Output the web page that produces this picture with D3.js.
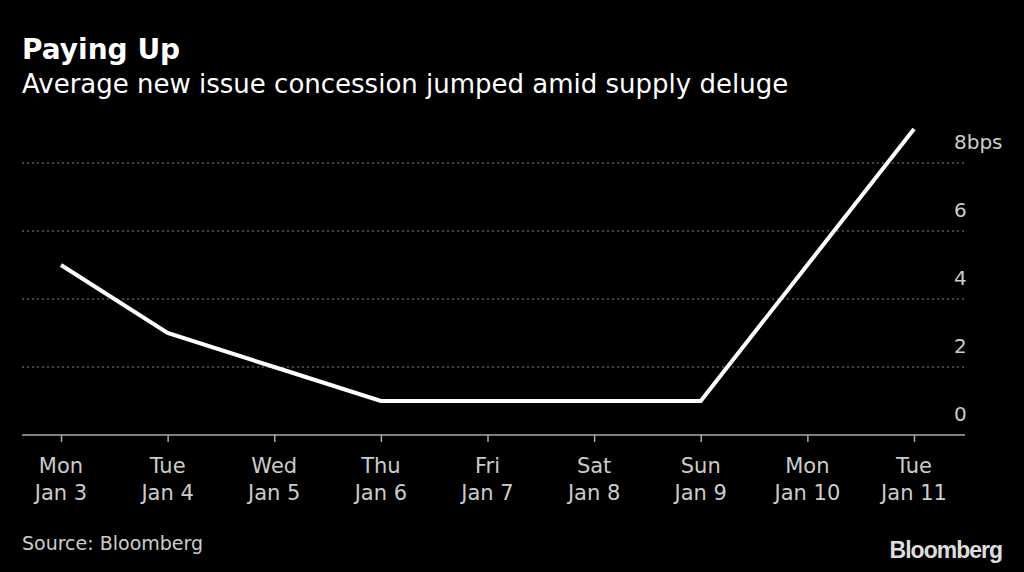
<!DOCTYPE html>
<html><head><meta charset="utf-8">
<script src="https://cdn.jsdelivr.net/npm/d3@7"></script>
<style>body{margin:0;background:#000;}svg{display:block;}</style>
</head><body>
<svg id="c" width="1024" height="572"></svg>
<script>
const days = ["Mon","Tue","Wed","Thu","Fri","Sat","Sun","Mon","Tue"];
const dates = ["Jan 3","Jan 4","Jan 5","Jan 6","Jan 7","Jan 8","Jan 9","Jan 10","Jan 11"];
const values = [5,3,2,1,1,1,1,5,9];
const yTicks = [0,2,4,6,8];

const svg = d3.select("#c");
svg.append("rect").attr("width",1024).attr("height",572).attr("fill","#000");
const font = "DejaVu Sans, sans-serif";

svg.append("text").attr("x",22).attr("y",59).text("Paying Up")
  .attr("font-family",font).attr("font-weight","bold").attr("font-size",28).attr("fill","#fff");
svg.append("text").attr("x",22).attr("y",93).text("Average new issue concession jumped amid supply deluge")
  .attr("font-family",font).attr("font-size",26).attr("fill","#fff");

const x = d3.scalePoint().domain(d3.range(days.length)).range([61,914]);
const y = d3.scaleLinear().domain([0,8]).range([435,163]);

// gridlines
svg.append("g").selectAll("line").data(yTicks.filter(d=>d>0)).join("line")
  .attr("x1",22).attr("x2",965).attr("y1",d=>y(d)).attr("y2",d=>y(d))
  .attr("stroke","#888").attr("stroke-width",1).attr("stroke-dasharray","2,3");

// y labels (above gridlines)
svg.append("g").selectAll("text").data(yTicks).join("text")
  .attr("x",954).attr("y",d=>y(d)-14)
  .text(d=>d===8?"8bps":d)
  .attr("font-family",font).attr("font-size",20).attr("fill","#ccc");

// x axis
const xAxis = d3.axisBottom(x).tickSize(7).tickFormat(()=>"");
const gx = svg.append("g").attr("transform","translate(0,435)").call(xAxis);
gx.select(".domain").remove();
gx.selectAll(".tick line").attr("stroke","#aaa").attr("stroke-width",1.5);
svg.append("line").attr("x1",22).attr("x2",965).attr("y1",435).attr("y2",435)
  .attr("stroke","#aaa").attr("stroke-width",1.5);

const lab = svg.append("g").selectAll("text").data(days.map((d,i)=>i)).join("text")
  .attr("text-anchor","middle").attr("font-family",font).attr("font-size",21).attr("fill","#ccc");
lab.append("tspan").attr("x",d=>x(d)).attr("y",473).text(d=>days[d]);
lab.append("tspan").attr("x",d=>x(d)).attr("y",500).text(d=>dates[d]);

// line
svg.append("path").datum(values)
  .attr("d", d3.line().x((d,i)=>x(i)).y(d=>y(d)))
  .attr("fill","none").attr("stroke","#fff").attr("stroke-width",4).attr("stroke-linejoin","miter");

svg.append("text").attr("x",22).attr("y",550).text("Source: Bloomberg")
  .attr("font-family",font).attr("font-size",19).attr("fill","#ccc");
svg.append("text").attr("x",1002).attr("y",558).attr("text-anchor","end").text("Bloomberg")
  .attr("font-family","Liberation Sans, Arial, sans-serif").attr("font-weight","bold")
  .attr("font-size",23).attr("letter-spacing",-1).attr("fill","#ddd");
</script>
</body></html>
